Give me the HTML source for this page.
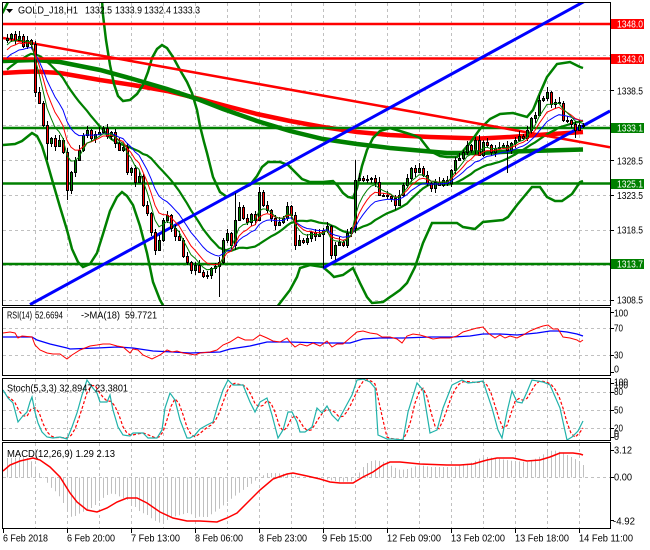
<!DOCTYPE html>
<html><head><meta charset="utf-8">
<style>
html,body{margin:0;padding:0;background:#fff;width:650px;height:550px;overflow:hidden}
svg{display:block}
text{font-family:"Liberation Sans",sans-serif;font-size:10px;fill:#000}
</style></head>
<body>
<svg id="s" xmlns="http://www.w3.org/2000/svg" xmlns:xlink="http://www.w3.org/1999/xlink" width="650" height="550" viewBox="0 0 650 550">
<defs>
<clipPath id="cm"><rect x="3" y="3" width="607" height="302"/></clipPath>
<clipPath id="cr"><rect x="3" y="308" width="607" height="67"/></clipPath>
<clipPath id="cs"><rect x="3" y="379" width="607" height="61"/></clipPath>
<clipPath id="cd"><rect x="3" y="443" width="607" height="85"/></clipPath>
<path id="vg" d="M35.5 3V305M35.5 308V375M35.5 379V440M35.5 443V528" stroke="#c0c0c0" stroke-width="1" stroke-dasharray="3 3" fill="none"/>
</defs>
<rect x="0" y="0" width="650" height="550" fill="#fff"/>

<!-- vertical grid -->
<use xlink:href="#vg" x="0"/><use xlink:href="#vg" x="32"/><use xlink:href="#vg" x="64"/><use xlink:href="#vg" x="96"/><use xlink:href="#vg" x="128"/><use xlink:href="#vg" x="160"/><use xlink:href="#vg" x="192"/><use xlink:href="#vg" x="224"/><use xlink:href="#vg" x="256"/><use xlink:href="#vg" x="288"/><use xlink:href="#vg" x="320"/><use xlink:href="#vg" x="352"/><use xlink:href="#vg" x="384"/><use xlink:href="#vg" x="416"/><use xlink:href="#vg" x="448"/><use xlink:href="#vg" x="480"/><use xlink:href="#vg" x="512"/><use xlink:href="#vg" x="544"/>

<!-- horizontal grid -->
<path d="M3 55.5H610M3 90.5H610M3 125.5H610M3 160.5H610M3 195.5H610M3 230.5H610M3 265.5H610M3 300.5H610M3 328.5H610M3 355.5H610M3 392.5H610M3 410.5H610M3 428.5H610M3 477.5H610" stroke="#c0c0c0" stroke-width="1" stroke-dasharray="3 3" fill="none"/>

<!-- MAIN PANEL -->
<g clip-path="url(#cm)">
<polyline fill="none" stroke="#ff0000" stroke-width="4.5" points="3,73 20,72 35,71.5 60,73 100,80 133,85 167,91 200,99 230,107 257,114 290,121 323,127 357,132 390,135 430,137 480,138.5 510,137 545,134.5 583,132"/>
<polyline fill="none" stroke="#008000" stroke-width="4.5" points="3,61 35,60 60,62 100,70 133,79 167,89 200,100 223,109 257,121 290,131 323,139 357,144 390,148 447,153 480,153 513,151.5 583,149.5"/>
<polyline fill="none" stroke="#008000" stroke-width="2.5" points="0,16 3,12 6,6 9,0"/>
<polyline fill="none" stroke="#008000" stroke-width="2.5" points="102,0 103,15 106,40 110,65 114,84 118,96 123,101 130,100 137,94 143,85 148,72 152,58 157,49 162,45 167,48 173,57 180,70 187,82 192,93 197,110 200,126 204,142 207,153 213,177 220,192 227,197 235,193 243,188 250,185 257,176 262,167 268,162 280,162 288,165 295,172 302,179 310,182 323,182 333,181 338,186 343,193 348,197 353,198 357,188 362,166 367,150 373,138 380,131 390,128 400,131 413,135 420,138 430,151 440,156 447,157 457,157 463,151 470,143 480,129 490,119 500,114 513,113 527,117 533,110 540,93 547,77 557,64 570,62 580,67 583,68"/>
<polyline fill="none" stroke="#008000" stroke-width="2.5" points="3,145 15,144 22,141 27,137 32,133 37,136 42,146 47,162 53,183 60,207 67,230 72,249 78,262 83,267 90,264 97,253 103,234 110,211 117,197 122,192 127,196 133,205 140,226 147,253 153,282 160,300 164,307"/>
<polyline fill="none" stroke="#008000" stroke-width="2.5" points="277,307 280,303 290,290 297,277 300,268 310,265 323,267 330,273 334,277 343,275 353,268 360,283 367,297 372,303 383,302 390,297 393,295 400,290 407,283 415,267 423,243 432,223 457,223 463,227 475,229 483,222 503,220 508,217 517,205 527,193 532,187 540,187 547,197 555,201 562,201 572,194 580,182 583,181"/>
<g id="bbm"></g>
<!-- horizontal levels -->
<path d="M3 24H610M3 58.5H610" stroke="#ff0000" stroke-width="2.5" fill="none"/>
<path d="M3 128H610M3 183.5H610M3 264H610" stroke="#008000" stroke-width="2.5" fill="none"/>
<!-- trend lines -->
<line x1="3" y1="38" x2="610" y2="147.3" stroke="#ff0000" stroke-width="2.5"/>
<line x1="30" y1="304.6" x2="586" y2="0.5" stroke="#0000ff" stroke-width="3"/>
<line x1="323" y1="268" x2="610" y2="111" stroke="#0000ff" stroke-width="3"/>
<g id="candles"></g>
<g id="thin"></g>
</g>

<!-- RSI PANEL -->
<g clip-path="url(#cr)">
<polyline fill="none" stroke="#0000ff" stroke-width="1.3" points="3,337 32,337 37,340 50,344 67,348 70,349 97,348 117,347 133,348 153,351 173,352 190,353 220,352 230,349 250,346 267,342 290,342 323,343 350,343 363,339 380,338 403,338 430,337 453,337 470,336 483,334 500,334 517,335 537,333 550,331 558,331 567,332 577,334 583,336"/>
<polyline fill="none" stroke="#ff0000" stroke-width="1" points="3,333 10,332 15,333 18,338 22,336 32,337 35,345 40,350 47,353 53,354 60,354 67,359 72,355 80,350 90,346 97,345 103,344 110,344 117,346 123,347 130,353 133,349 138,350 143,355 152,359 160,355 167,350 172,352 177,351 183,353 190,354 195,355 200,353 210,352 217,350 223,345 230,342 238,337 245,340 253,340 260,335 267,338 273,341 280,342 287,338 290,342 295,347 300,344 307,346 313,343 320,346 327,341 332,347 337,344 343,344 350,338 357,332 363,331 370,333 377,334 382,337 390,337 397,339 402,343 407,336 413,334 420,335 427,337 433,339 440,338 450,338 457,336 463,332 470,330 477,328 483,327 488,333 495,338 500,335 505,338 510,336 517,338 523,335 530,331 537,328 543,326 548,325 553,329 558,329 563,337 570,338 577,340 580,342 583,340"/>
</g>

<!-- STOCH PANEL -->
<g clip-path="url(#cs)">
<g id="std"></g>
<polyline fill="none" stroke="#20b2aa" stroke-width="1.2" points="3,390 8,398 13,403 18,422 22,417 27,412 30,402 32,397 35,412 38,423 42,432 47,437 53,438 60,437 67,439 72,427 77,413 82,395 87,380 92,387 97,393 100,402 107,402 110,395 113,410 118,427 123,435 130,436 133,433 143,433 148,438 157,438 162,430 165,408 170,393 175,400 180,420 187,438 190,438 195,435 200,429 207,425 213,422 218,405 223,390 228,380 233,385 243,385 250,402 255,412 260,402 267,398 272,415 278,438 283,430 288,412 292,412 297,422 300,432 305,432 312,427 317,408 322,413 327,406 332,415 338,421 345,408 352,395 357,380 363,379 370,382 375,388 378,435 387,439 393,439 403,440 408,412 417,383 423,390 430,433 437,430 443,408 452,385 462,380 468,383 477,382 483,381 492,408 498,430 502,438 507,412 512,391 517,402 522,403 527,392 532,380 543,382 550,385 560,408 567,440 572,437 578,431 583,421"/>
</g>

<!-- MACD PANEL -->
<g clip-path="url(#cd)">
<g id="hist"></g>
<polyline fill="none" stroke="#ff0000" stroke-width="1.5" points="3,471 10,465 20,461 33,458 40,460 50,467 60,477 70,493 77,502 87,510 97,512 107,508 117,502 127,498 137,498 147,503 160,512 173,518 187,521 200,521 217,522 227,518 237,513 247,503 260,490 273,479 287,474 293,473 307,476 320,479 330,482 340,483 353,483 363,477 373,472 383,465 390,462 400,462 420,464 447,465 460,465 473,464 487,460 497,458 513,458 527,461 540,460 550,457 560,453 573,453 580,454 583,455"/>
</g>

<!-- frames -->
<g fill="none" stroke="#000" stroke-width="1">
<rect x="2.5" y="2.5" width="608" height="303"/>
<rect x="2.5" y="307.5" width="608" height="68"/>
<rect x="2.5" y="378.5" width="608" height="62"/>
<rect x="2.5" y="442.5" width="608" height="86"/>
</g>
<!-- right axis ticks -->
<path d="M610 24H614M610 58.5H614M610 90.5H614M610 128H614M610 160.5H614M610 183.5H614M610 195.5H614M610 230.5H614M610 264H614M610 300.5H614M610 312.5H614M610 328.5H614M610 355.5H614M610 372.5H614M610 383.5H614M610 392.5H614M610 410.5H614M610 428.5H614M610 437.5H614M610 450.5H614M610 477.5H614M610 520.5H614" stroke="#000" stroke-width="1"/>
<!-- bottom ticks -->
<path d="M3.5 529V533M67.5 529V533M131.5 529V533M195.5 529V533M259.5 529V533M323.5 529V533M387.5 529V533M451.5 529V533M515.5 529V533M579.5 529V533" stroke="#000" stroke-width="1"/>

<!-- title -->
<polygon points="6,9 13,9 9.5,13" fill="#000"/>
<text x="18" y="13.5" textLength="60" lengthAdjust="spacingAndGlyphs">GOLD_J18,H1</text>
<text x="85" y="13.5" textLength="27" lengthAdjust="spacingAndGlyphs">1332.5</text>
<text x="115" y="13.5" textLength="27" lengthAdjust="spacingAndGlyphs">1333.9</text>
<text x="144" y="13.5" textLength="27" lengthAdjust="spacingAndGlyphs">1332.4</text>
<text x="173" y="13.5" textLength="27" lengthAdjust="spacingAndGlyphs">1333.3</text>

<!-- indicator labels -->
<text x="7" y="318.5" textLength="25" lengthAdjust="spacingAndGlyphs">RSI(14)</text>
<text x="35" y="318.5" textLength="28" lengthAdjust="spacingAndGlyphs">52.6694</text>
<text x="81" y="318.5" textLength="39" lengthAdjust="spacingAndGlyphs">-&gt;MA(18)</text>
<text x="125" y="318.5" textLength="32" lengthAdjust="spacingAndGlyphs">59.7721</text>
<text x="7" y="391.5" textLength="121" lengthAdjust="spacingAndGlyphs">Stoch(5,3,3) 32.8947 23.3801</text>
<text x="7" y="457" textLength="108" lengthAdjust="spacingAndGlyphs">MACD(12,26,9) 1.29 2.13</text>

<!-- price axis -->
<text x="617" y="94.3" textLength="26" lengthAdjust="spacingAndGlyphs">1338.5</text>
<text x="617" y="164.3" textLength="26" lengthAdjust="spacingAndGlyphs">1328.5</text>
<text x="617" y="199" textLength="26" lengthAdjust="spacingAndGlyphs">1323.5</text>
<text x="617" y="233.3" textLength="26" lengthAdjust="spacingAndGlyphs">1318.5</text>
<text x="617" y="303.3" textLength="26" lengthAdjust="spacingAndGlyphs">1308.5</text>
<rect x="611" y="19" width="33" height="10" fill="#ff0000"/>
<text x="617" y="27.6" textLength="26" lengthAdjust="spacingAndGlyphs" style="fill:#fff">1348.0</text>
<rect x="611" y="54" width="33" height="10" fill="#ff0000"/>
<text x="617" y="62.6" textLength="26" lengthAdjust="spacingAndGlyphs" style="fill:#fff">1343.0</text>
<rect x="611" y="123" width="33" height="10" fill="#008000"/>
<text x="617" y="131.6" textLength="26" lengthAdjust="spacingAndGlyphs" style="fill:#fff">1333.1</text>
<rect x="611" y="179" width="33" height="10" fill="#008000"/>
<text x="617" y="187.6" textLength="26" lengthAdjust="spacingAndGlyphs" style="fill:#fff">1325.1</text>
<rect x="611" y="259" width="33" height="10" fill="#008000"/>
<text x="617" y="267.6" textLength="26" lengthAdjust="spacingAndGlyphs" style="fill:#fff">1313.7</text>

<!-- RSI axis -->
<text x="614" y="316.7" textLength="14" lengthAdjust="spacingAndGlyphs">100</text>
<text x="614" y="331.7" textLength="9" lengthAdjust="spacingAndGlyphs">70</text>
<text x="614" y="358.3" textLength="9" lengthAdjust="spacingAndGlyphs">30</text>
<text x="614" y="372.3" textLength="5" lengthAdjust="spacingAndGlyphs">0</text>
<!-- Stoch axis -->
<text x="614" y="385.5" textLength="14" lengthAdjust="spacingAndGlyphs">100</text>
<text x="614" y="388.5" textLength="14" lengthAdjust="spacingAndGlyphs">100</text>
<text x="614" y="395" textLength="9" lengthAdjust="spacingAndGlyphs">80</text>
<text x="614" y="413.3" textLength="9" lengthAdjust="spacingAndGlyphs">50</text>
<text x="614" y="431.7" textLength="9" lengthAdjust="spacingAndGlyphs">20</text>
<text x="614" y="437" textLength="5" lengthAdjust="spacingAndGlyphs">0</text>
<text x="614" y="440" textLength="5" lengthAdjust="spacingAndGlyphs">0</text>
<!-- MACD axis -->
<text x="614" y="453.3" textLength="18" lengthAdjust="spacingAndGlyphs">3.12</text>
<text x="614" y="480.5" textLength="18" lengthAdjust="spacingAndGlyphs">0.00</text>
<text x="613" y="524.3" textLength="22" lengthAdjust="spacingAndGlyphs">-4.92</text>

<!-- time axis -->
<text x="3" y="541.5" textLength="45" lengthAdjust="spacingAndGlyphs">6 Feb 2018</text>
<text x="67" y="541.5" textLength="48" lengthAdjust="spacingAndGlyphs">6 Feb 20:00</text>
<text x="131" y="541.5" textLength="49" lengthAdjust="spacingAndGlyphs">7 Feb 13:00</text>
<text x="195" y="541.5" textLength="48" lengthAdjust="spacingAndGlyphs">8 Feb 06:00</text>
<text x="259" y="541.5" textLength="48" lengthAdjust="spacingAndGlyphs">8 Feb 23:00</text>
<text x="322" y="541.5" textLength="50" lengthAdjust="spacingAndGlyphs">9 Feb 15:00</text>
<text x="387" y="541.5" textLength="54" lengthAdjust="spacingAndGlyphs">12 Feb 09:00</text>
<text x="451" y="541.5" textLength="54" lengthAdjust="spacingAndGlyphs">13 Feb 02:00</text>
<text x="515" y="541.5" textLength="54" lengthAdjust="spacingAndGlyphs">13 Feb 18:00</text>
<text x="579" y="541.5" textLength="54" lengthAdjust="spacingAndGlyphs">14 Feb 11:00</text>
</svg>

<script>
(function(){
var NS='http://www.w3.org/2000/svg';
function mk(t,a,p){var e=document.createElementNS(NS,t);for(var k in a)e.setAttribute(k,a[k]);p.appendChild(e);return e;}
var C=[38,34,40,36,46,40,44,92,103,125,
143,138,146,140,152,190,172,160,150,135,
130,138,134,132,128,136,132,143,150,147,
172,168,182,176,205,213,232,250,240,220,
215,228,236,240,256,262,270,265,272,276,
275,268,266,262,240,233,245,220,207,218,
222,214,220,192,205,210,218,225,222,218,
206,215,245,240,242,238,232,236,234,230,
226,255,245,242,245,233,228,180,178,180,
179,178,182,195,195,196,198,205,195,185,
178,168,172,168,175,183,188,182,185,180,
183,170,160,158,152,145,150,140,155,142,
145,152,148,147,145,150,143,140,136,138,
130,118,115,100,98,92,104,102,103,120,
120,124,130,125,126];
var N=C.length;
function X(i){return 7+4*i;}
var pre=[];for(var k=0;k<25;k++)pre.push(120-78*k/24);
var A=pre.concat(C),P=pre.length;

/* candles */
var cg=document.getElementById('candles');
var hiO={57:193,87:160,135:87},loO={10:160,15:200,53:297,79:268,125:173,142:138};
var wick='';
var bodies=[];
for(var i=0;i<N;i++){
  var o=i?C[i-1]:40,c=C[i];
  var t=Math.min(o,c),b=Math.max(o,c);
  var h=t-(1+((i*7+3)%5)),l=b+(1+((i*11+2)%5));
  if(hiO[i]!==undefined)h=hiO[i];
  if(loO[i]!==undefined)l=loO[i];
  var x=X(i);
  wick+='M'+(x+0.5)+' '+Math.round(h)+'V'+Math.round(l);
  bodies.push([x,Math.round(t),Math.round(b),c>o?'#ff0000':'#008000']);
}
mk('path',{d:wick,stroke:'#000','stroke-width':1,fill:'none'},cg);
for(var j=0;j<bodies.length;j++){
  var bd=bodies[j];
  mk('rect',{x:bd[0]-0.5,y:bd[1]+0.5,width:2,height:Math.max(1,bd[2]-bd[1]),fill:bd[3],stroke:'#000','stroke-width':1},cg);
}

/* moving averages */
function ema(p){var a=2/(p+1),v=A[0],r=[];for(var q=0;q<A.length;q++){v=v+a*(A[q]-v);r.push(v);}return r;}
function sma(p){var r=[];for(var q=0;q<A.length;q++){var s=0,n=0;for(var m=Math.max(0,q-p+1);m<=q;m++){s+=A[m];n++;}r.push(s/n);}return r;}
function pl(arr,col,w,par){var pts=[];for(var q=0;q<N;q++)pts.push(X(q)+','+arr[P+q].toFixed(1));mk('polyline',{points:pts.join(' '),fill:'none',stroke:col,'stroke-width':w},par);}
pl(sma(20),'#008000',2.2,document.getElementById('bbm'));
var th=document.getElementById('thin');
pl(ema(13),'#0000ff',1,th);
pl(ema(8),'#ff0000',1,th);
pl(ema(5),'#008000',1,th);

function interp(pts,x){if(x<=pts[0][0])return pts[0][1];for(var k=1;k<pts.length;k++){if(x<=pts[k][0]){var x0=pts[k-1][0],y0=pts[k-1][1],x1=pts[k][0],y1=pts[k][1];return y0+(y1-y0)*(x-x0)/(x1-x0);}}return pts[pts.length-1][1];}

/* stoch %D */
var K=[[3,390],[8,398],[13,403],[18,422],[22,417],[27,412],[30,402],[32,397],[35,412],[38,423],[42,432],[47,437],[53,438],[60,437],[67,439],[72,427],[77,413],[82,395],[87,380],[92,387],[97,393],[100,402],[107,402],[110,395],[113,410],[118,427],[123,435],[130,436],[133,433],[143,433],[148,438],[157,438],[162,430],[165,408],[170,393],[175,400],[180,420],[187,438],[190,438],[195,435],[200,429],[207,425],[213,422],[218,405],[223,390],[228,380],[233,385],[243,385],[250,402],[255,412],[260,402],[267,398],[272,415],[278,438],[283,430],[288,412],[292,412],[297,422],[300,432],[305,432],[312,427],[317,408],[322,413],[327,406],[332,415],[338,421],[345,408],[352,395],[357,380],[363,379],[370,382],[375,388],[378,435],[387,439],[393,439],[403,440],[408,412],[417,383],[423,390],[430,433],[437,430],[443,408],[452,385],[462,380],[468,383],[477,382],[483,381],[492,408],[498,430],[502,438],[507,412],[512,391],[517,402],[522,403],[527,392],[532,380],[543,382],[550,385],[560,408],[567,440],[572,437],[578,431],[583,421]];
var ks=[];for(var i2=0;i2<N;i2++)ks.push(interp(K,X(i2)));
var dp=[];for(var i3=0;i3<N;i3++){var s=0,n=0;for(var m=Math.max(0,i3-2);m<=i3;m++){s+=ks[m];n++;}dp.push(X(i3)+','+(s/n).toFixed(1));}
mk('polyline',{points:dp.join(' '),fill:'none',stroke:'#ff0000','stroke-width':1.2,'stroke-dasharray':'3 2'},document.getElementById('std'));

/* MACD histogram */
var H=[[3,458],[13,458],[20,457],[27,458],[33,463],[38,472],[43,477],[50,487],[57,493],[63,503],[70,517],[75,516],[80,513],[87,510],[93,507],[100,500],[107,495],[113,493],[120,497],[127,500],[133,505],[140,512],[147,515],[153,520],[160,523],[167,520],[173,517],[180,515],[187,513],[193,515],[200,517],[207,517],[213,513],[220,508],[227,502],[233,497],[240,492],[247,487],[253,482],[260,477],[267,473],[273,473],[287,474],[300,477],[320,478],[330,480],[340,482],[353,481],[358,475],[360,470],[367,463],[373,460],[380,461],[387,463],[393,467],[400,470],[407,469],[413,467],[420,465],[430,467],[453,467],[463,465],[473,462],[480,458],[487,457],[500,459],[513,461],[527,462],[537,458],[547,452],[553,450],[560,452],[567,455],[573,458],[580,462],[583,465]];
var hd='';
for(var i4=0;i4<N;i4++){var xv=X(i4),yv=interp(H,xv);hd+='M'+(xv+0.5)+' 477.5V'+yv.toFixed(1);}
mk('path',{d:hd,stroke:'#c0c0c0','stroke-width':1,fill:'none'},document.getElementById('hist'));
})();
</script>
</body></html>
